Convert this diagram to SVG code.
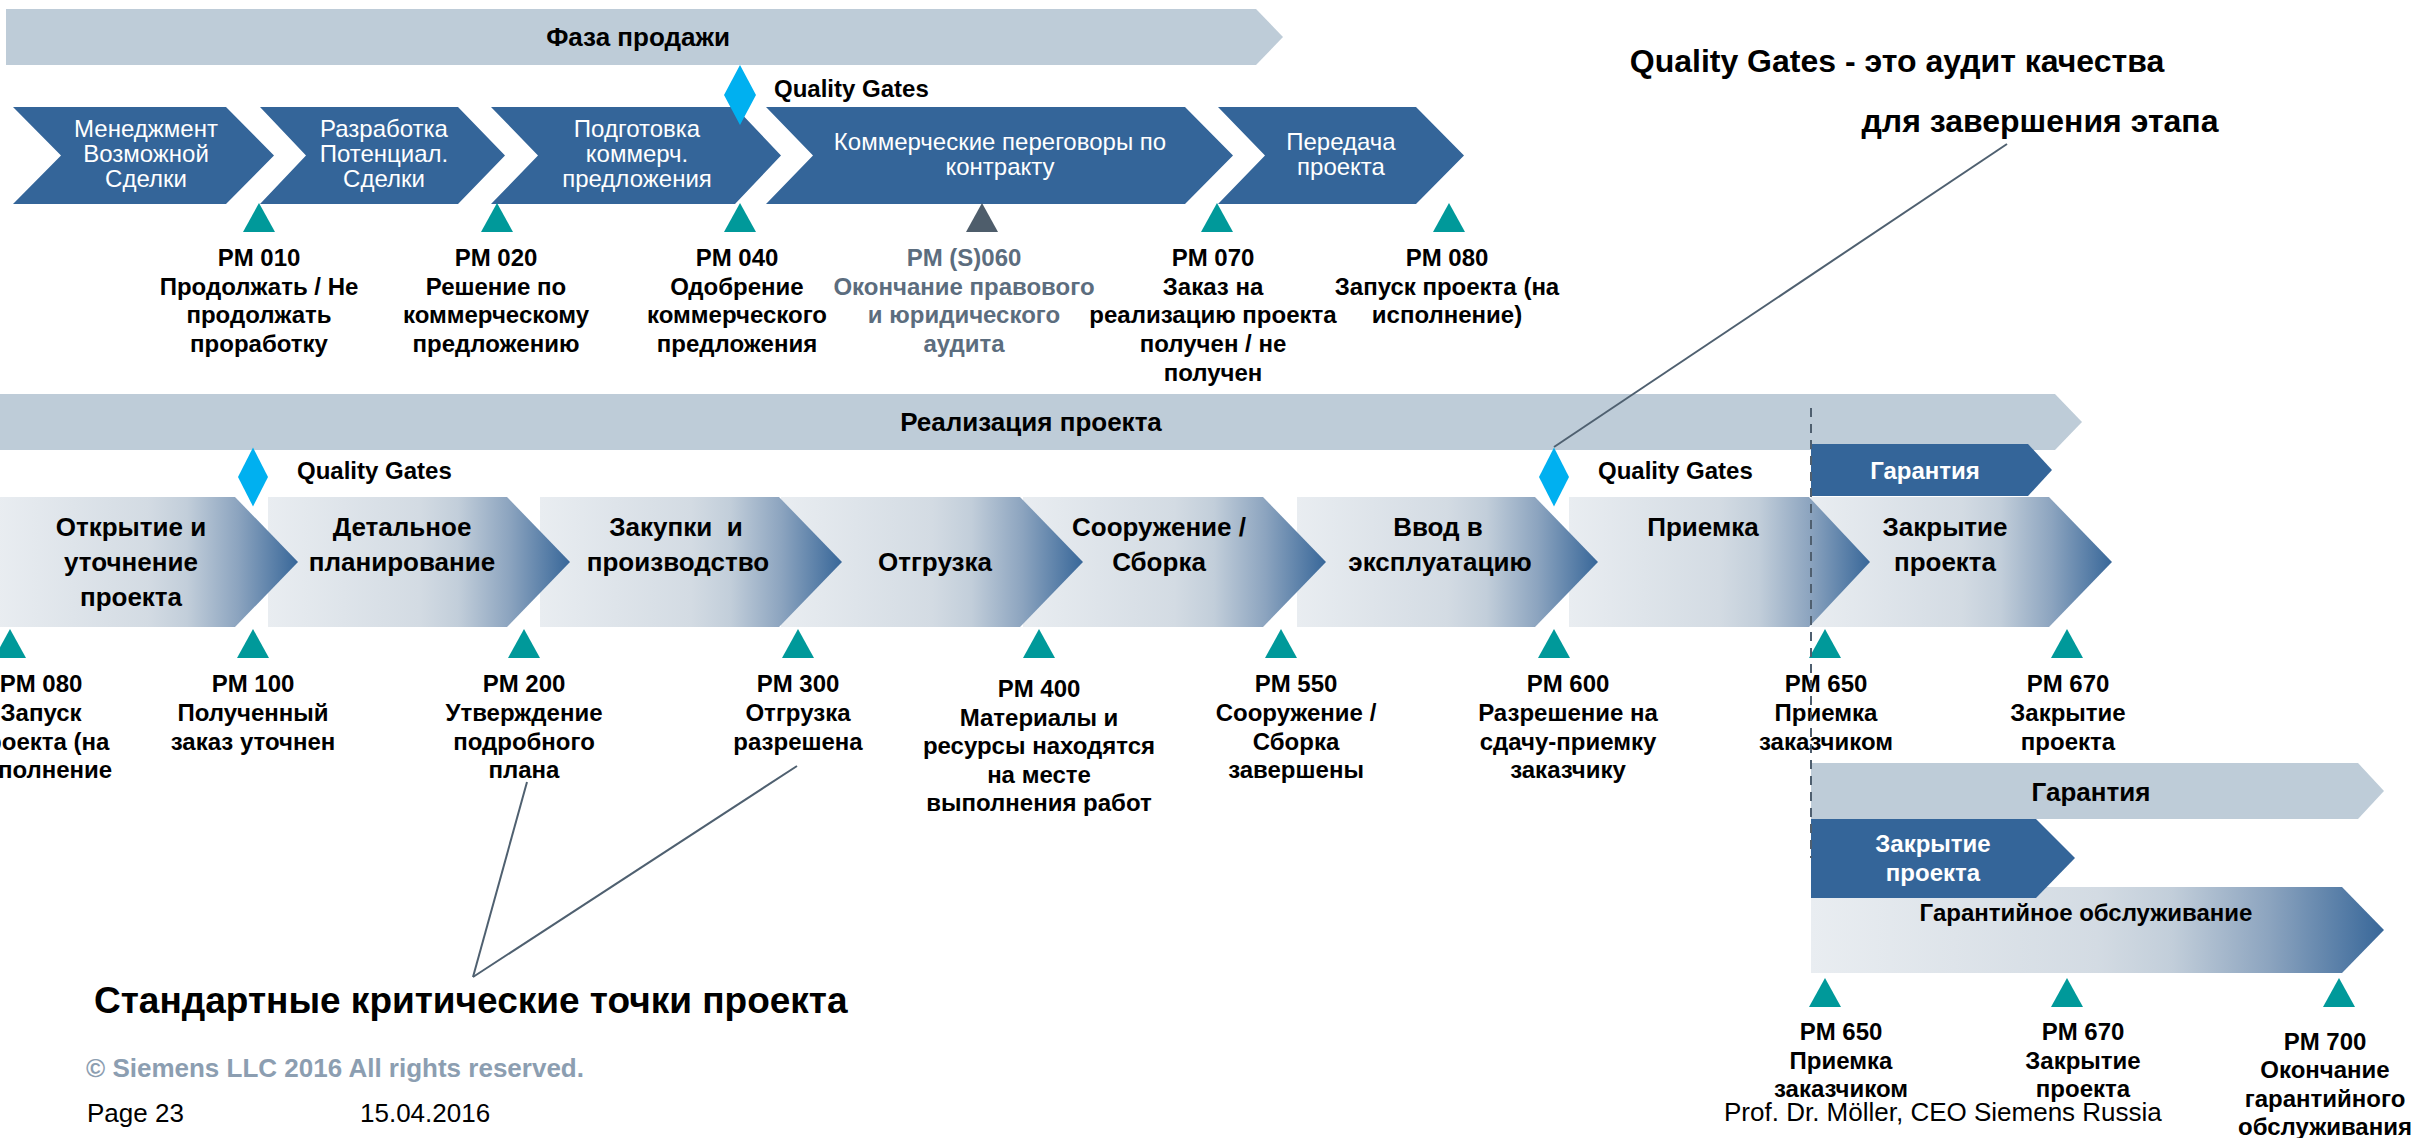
<svg xmlns="http://www.w3.org/2000/svg" xmlns:xlink="http://www.w3.org/1999/xlink" width="2414" height="1138" viewBox="0 0 2414 1138">
<style>
text{font-family:"Liberation Sans",Arial,sans-serif;}
.bar{fill:#BECCD8;}
.dk{fill:#346599;}
.gr{fill:url(#g);}
.qg{fill:#00B0F0;}
.tri{fill:#00999A;}
.trig{fill:#4E5D6B;}
.ph{font-size:26px;font-weight:bold;fill:#000;text-anchor:middle;}
.wt{font-size:24px;fill:#fff;text-anchor:middle;}
.wb{font-size:24px;font-weight:bold;fill:#fff;text-anchor:middle;}
.ct{font-size:26px;font-weight:bold;fill:#000;text-anchor:middle;}
.lb{font-size:24px;font-weight:bold;fill:#000;text-anchor:middle;}
.lbg{font-size:24px;font-weight:bold;fill:#5C6D7E;text-anchor:middle;}
.qgt{font-size:24px;font-weight:bold;fill:#000;}
.big{font-size:32px;font-weight:bold;fill:#000;text-anchor:middle;}
.big2{font-size:37px;font-weight:bold;fill:#000;}
.copy{font-size:26px;font-weight:bold;fill:#8C9EB1;}
.ft{font-size:26px;fill:#000;}
.ln{stroke:#4F6070;stroke-width:2;fill:none;}
.dash{stroke:#4F5F6F;stroke-width:2;stroke-dasharray:9,7;fill:none;}
</style>
<defs>
<linearGradient id="g" x1="0" y1="0" x2="1" y2="0">
<stop offset="0" stop-color="#E9EDF1"/>
<stop offset="0.5" stop-color="#D3DBE3"/>
<stop offset="0.63" stop-color="#C2CEDA"/>
<stop offset="0.8" stop-color="#8CA4BF"/>
<stop offset="1" stop-color="#386799"/>
</linearGradient>
<polygon id="tri" points="0,0 -16,29 16,29"/>
</defs>

<!-- Sales phase -->
<g id="phase-sales">
<polygon class="bar" points="6,9 1256,9 1283,37 1256,65 6,65"/>
<text class="ph" x="638" y="46">Фаза продажи</text>
</g>

<g id="s1"><polygon class="dk" points="13,107 226,107 274,155.5 226,204 13,204 61,155.5"/>
<text class="wt" x="146" y="137">Менеджмент</text><text class="wt" x="146" y="162">Возможной</text><text class="wt" x="146" y="187">Сделки</text></g>
<g id="s2"><polygon class="dk" points="260,107 458,107 505,155.5 458,204 260,204 306,155.5"/>
<text class="wt" x="384" y="137">Разработка</text><text class="wt" x="384" y="162">Потенциал.</text><text class="wt" x="384" y="187">Сделки</text></g>
<g id="s3"><polygon class="dk" points="491,107 735,107 781,155.5 735,204 491,204 538,155.5"/>
<text class="wt" x="637" y="137">Подготовка</text><text class="wt" x="637" y="162">коммерч.</text><text class="wt" x="637" y="187">предложения</text></g>
<g id="s4"><polygon class="dk" points="766,107 1185,107 1233,155.5 1185,204 766,204 813,155.5"/>
<text class="wt" x="1000" y="150">Коммерческие переговоры по</text><text class="wt" x="1000" y="175">контракту</text></g>
<g id="s5"><polygon class="dk" points="1218,107 1416,107 1464,155.5 1416,204 1218,204 1265,155.5"/>
<text class="wt" x="1341" y="150">Передача</text><text class="wt" x="1341" y="175">проекта</text></g>

<g id="qg1"><polygon class="qg" points="740,65 756,95 740,125 724,95"/>
<text class="qgt" x="774" y="97">Quality Gates</text></g>

<g id="m-row1">
<use href="#tri" class="tri" x="259" y="203"/>
<use href="#tri" class="tri" x="497" y="203"/>
<use href="#tri" class="tri" x="740" y="203"/>
<use href="#tri" class="trig" x="982" y="203"/>
<use href="#tri" class="tri" x="1217" y="203"/>
<use href="#tri" class="tri" x="1449" y="203"/>
</g>
<g id="pm010"><text class="lb" x="259" y="266">PM 010</text><text class="lb" x="259" y="295">Продолжать / Не</text><text class="lb" x="259" y="323">продолжать</text><text class="lb" x="259" y="352">проработку</text></g>
<g id="pm020"><text class="lb" x="496" y="266">PM 020</text><text class="lb" x="496" y="295">Решение по</text><text class="lb" x="496" y="323">коммерческому</text><text class="lb" x="496" y="352">предложению</text></g>
<g id="pm040"><text class="lb" x="737" y="266">PM 040</text><text class="lb" x="737" y="295">Одобрение</text><text class="lb" x="737" y="323">коммерческого</text><text class="lb" x="737" y="352">предложения</text></g>
<g id="pm060"><text class="lbg" x="964" y="266">PM (S)060</text><text class="lbg" x="964" y="295">Окончание правового</text><text class="lbg" x="964" y="323">и юридического</text><text class="lbg" x="964" y="352">аудита</text></g>
<g id="pm070"><text class="lb" x="1213" y="266">PM 070</text><text class="lb" x="1213" y="295">Заказ на</text><text class="lb" x="1213" y="323">реализацию проекта</text><text class="lb" x="1213" y="352">получен / не</text><text class="lb" x="1213" y="381">получен</text></g>
<g id="pm080a"><text class="lb" x="1447" y="266">PM 080</text><text class="lb" x="1447" y="295">Запуск проекта (на</text><text class="lb" x="1447" y="323">исполнение)</text></g>

<g id="qg-note"><text class="big" x="1897" y="72">Quality Gates - это аудит качества</text><text class="big" x="2040" y="132">для завершения этапа</text></g>

<!-- Realisation phase -->
<g id="phase-impl">
<polygon class="bar" points="-2,394 2055,394 2082,422 2055,450 -2,450"/>
<text class="ph" x="1031" y="431">Реализация проекта</text>
</g>
<g id="warranty-small"><polygon class="dk" points="1811,444 2028,444 2052,470 2028,496 1811,496"/>
<text class="wb" x="1925" y="479">Гарантия</text></g>

<g id="c8"><polygon class="gr" points="1811,497 2049,497 2112,562 2049,627 1811,627"/>
<text class="ct" x="1945" y="536">Закрытие</text><text class="ct" x="1945" y="571">проекта</text></g>
<g id="c7"><polygon class="gr" points="1569,497 1809,497 1870,562 1809,627 1569,627"/>
<text class="ct" x="1703" y="536">Приемка</text></g>
<g id="c6"><polygon class="gr" points="1297,497 1535,497 1598,562 1535,627 1297,627"/>
<text class="ct" x="1438" y="536">Ввод в</text><text class="ct" x="1440" y="571">эксплуатацию</text></g>
<g id="c5"><polygon class="gr" points="1023,497 1263,497 1326,562 1263,627 1023,627"/>
<text class="ct" x="1159" y="536">Сооружение /</text><text class="ct" x="1159" y="571">Сборка</text></g>
<g id="c4"><polygon class="gr" points="781,497 1020,497 1083,562 1020,627 781,627"/>
<text class="ct" x="935" y="571">Отгрузка</text></g>
<g id="c3"><polygon class="gr" points="540,497 779,497 842,562 779,627 540,627"/>
<text class="ct" x="676" y="536">Закупки&#160; и</text><text class="ct" x="678" y="571">производство</text></g>
<g id="c2"><polygon class="gr" points="268,497 507,497 570,562 507,627 268,627"/>
<text class="ct" x="402" y="536">Детальное</text><text class="ct" x="402" y="571">планирование</text></g>
<g id="c1"><polygon class="gr" points="-2,497 235,497 298,562 235,627 -2,627"/>
<text class="ct" x="131" y="536">Открытие и</text><text class="ct" x="131" y="571">уточнение</text><text class="ct" x="131" y="606">проекта</text></g>

<g id="qg2"><polygon class="qg" points="253,447.5 268,477 253,506.5 238,477"/>
<text class="qgt" x="297" y="479">Quality Gates</text></g>
<g id="qg3"><polygon class="qg" points="1554,447.5 1569,477 1554,506.5 1539,477"/>
<text class="qgt" x="1598" y="479">Quality Gates</text></g>

<g id="m-row2">
<use href="#tri" class="tri" x="10" y="629"/>
<use href="#tri" class="tri" x="253" y="629"/>
<use href="#tri" class="tri" x="524" y="629"/>
<use href="#tri" class="tri" x="798" y="629"/>
<use href="#tri" class="tri" x="1039" y="629"/>
<use href="#tri" class="tri" x="1281" y="629"/>
<use href="#tri" class="tri" x="1554" y="629"/>
<use href="#tri" class="tri" x="1825" y="629"/>
<use href="#tri" class="tri" x="2067" y="629"/>
</g>
<g id="pm080b"><text class="lb" x="41" y="692">PM 080</text><text class="lb" x="41" y="721">Запуск</text><text class="lb" x="41" y="750">проекта (на</text><text class="lb" x="41" y="778">исполнение</text></g>
<g id="pm100"><text class="lb" x="253" y="692">PM 100</text><text class="lb" x="253" y="721">Полученный</text><text class="lb" x="253" y="750">заказ уточнен</text></g>
<g id="pm200"><text class="lb" x="524" y="692">PM 200</text><text class="lb" x="524" y="721">Утверждение</text><text class="lb" x="524" y="750">подробного</text><text class="lb" x="524" y="778">плана</text></g>
<g id="pm300"><text class="lb" x="798" y="692">PM 300</text><text class="lb" x="798" y="721">Отгрузка</text><text class="lb" x="798" y="750">разрешена</text></g>
<g id="pm400"><text class="lb" x="1039" y="697">PM 400</text><text class="lb" x="1039" y="726">Материалы и</text><text class="lb" x="1039" y="754">ресурсы находятся</text><text class="lb" x="1039" y="783">на месте</text><text class="lb" x="1039" y="811">выполнения работ</text></g>
<g id="pm550"><text class="lb" x="1296" y="692">PM 550</text><text class="lb" x="1296" y="721">Сооружение /</text><text class="lb" x="1296" y="750">Сборка</text><text class="lb" x="1296" y="778">завершены</text></g>
<g id="pm600"><text class="lb" x="1568" y="692">PM 600</text><text class="lb" x="1568" y="721">Разрешение на</text><text class="lb" x="1568" y="750">сдачу-приемку</text><text class="lb" x="1568" y="778">заказчику</text></g>
<g id="pm650a"><text class="lb" x="1826" y="692">PM 650</text><text class="lb" x="1826" y="721">Приемка</text><text class="lb" x="1826" y="750">заказчиком</text></g>
<g id="pm670a"><text class="lb" x="2068" y="692">PM 670</text><text class="lb" x="2068" y="721">Закрытие</text><text class="lb" x="2068" y="750">проекта</text></g>

<!-- Warranty phase -->
<g id="warranty"><polygon class="bar" points="1811,763 2358,763 2384,791 2358,819 1811,819"/>
<text class="ph" x="2091" y="801">Гарантия</text></g>
<g id="service"><polygon class="gr" points="1811,887 2342,887 2384,930 2342,973 1811,973"/>
<text class="ct" x="2086" y="921" style="font-size:24px">Гарантийное обслуживание</text></g>
<g id="closing"><polygon class="dk" points="1811,819 2036,819 2075,858 2036,898 1811,898"/>
<text class="wb" x="1933" y="852">Закрытие</text><text class="wb" x="1933" y="881">проекта</text></g>

<g id="m-row3">
<use href="#tri" class="tri" x="1825" y="978"/>
<use href="#tri" class="tri" x="2067" y="978"/>
<use href="#tri" class="tri" x="2339" y="978"/>
</g>
<g id="pm650b"><text class="lb" x="1841" y="1040">PM 650</text><text class="lb" x="1841" y="1069">Приемка</text><text class="lb" x="1841" y="1097">заказчиком</text></g>
<g id="pm670b"><text class="lb" x="2083" y="1040">PM 670</text><text class="lb" x="2083" y="1069">Закрытие</text><text class="lb" x="2083" y="1097">проекта</text></g>
<g id="pm700"><text class="lb" x="2325" y="1050">PM 700</text><text class="lb" x="2325" y="1078">Окончание</text><text class="lb" x="2325" y="1107">гарантийного</text><text class="lb" x="2325" y="1135">обслуживания</text></g>

<g id="connectors">
<line class="ln" x1="2007" y1="144" x2="1554" y2="447"/>
<line class="ln" x1="527" y1="782" x2="473" y2="977"/>
<line class="ln" x1="797" y1="766" x2="473" y2="977"/>
<line class="dash" x1="1811" y1="408" x2="1811" y2="858"/>
</g>

<g id="std-note"><text class="big2" x="94" y="1013">Стандартные критические точки проекта</text></g>

<g id="footer">
<text class="copy" x="86" y="1077">© Siemens LLC 2016 All rights reserved.</text>
<text class="ft" x="87" y="1122">Page 23</text>
<text class="ft" x="360" y="1122">15.04.2016</text>
<text class="ft" x="1724" y="1121">Prof. Dr. Möller, CEO Siemens Russia</text>
</g>
</svg>
